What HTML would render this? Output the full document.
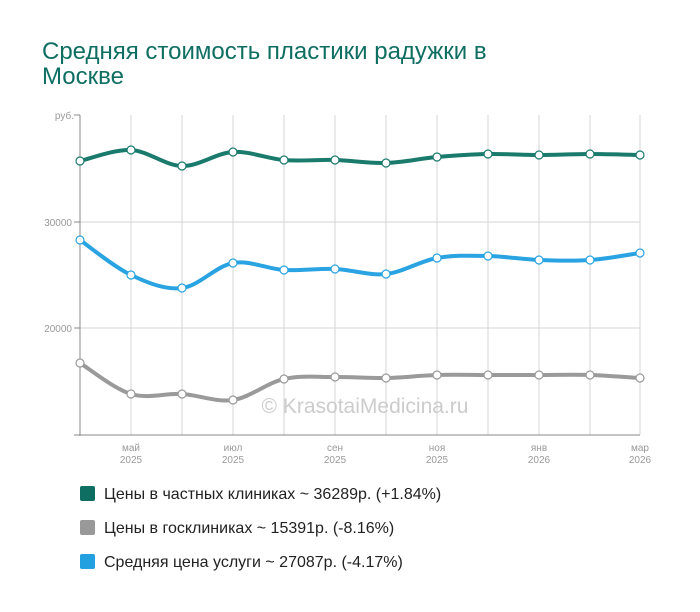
<!DOCTYPE html>
<html><head><meta charset="utf-8"><style>
body{margin:0;background:#fff;width:700px;height:612px;overflow:hidden;font-family:"Liberation Sans",sans-serif}
h1{position:absolute;left:42px;top:39px;margin:0;font-weight:normal;font-size:24px;line-height:25px;color:#0f6e62}
.lg{position:absolute;left:80px;font-size:16px;color:#222}
.lg span{display:inline-block;width:15px;height:15px;border-radius:2px;vertical-align:-2px;margin-right:9px}
</style></head><body>
<h1>Средняя стоимость пластики радужки в<br>Москве</h1>
<svg id="s" width="700" height="612" style="position:absolute;left:0;top:0" font-family="Liberation Sans, sans-serif">
<g stroke="#d6d6d6" stroke-width="1">
<line x1="131" y1="115" x2="131" y2="435"/><line x1="182" y1="115" x2="182" y2="435"/><line x1="233" y1="115" x2="233" y2="435"/><line x1="284" y1="115" x2="284" y2="435"/><line x1="335" y1="115" x2="335" y2="435"/><line x1="386" y1="115" x2="386" y2="435"/><line x1="437" y1="115" x2="437" y2="435"/><line x1="488" y1="115" x2="488" y2="435"/><line x1="539" y1="115" x2="539" y2="435"/><line x1="590" y1="115" x2="590" y2="435"/><line x1="640" y1="115" x2="640" y2="435"/>
<line x1="76" y1="222" x2="640" y2="222"/><line x1="76" y1="328" x2="640" y2="328"/>
</g>
<g stroke="#888" stroke-width="1"><line x1="80" y1="115" x2="80" y2="436"/><line x1="74" y1="435" x2="640" y2="435"/><line x1="74" y1="115" x2="80" y2="115"/><line x1="74" y1="222" x2="80" y2="222"/><line x1="74" y1="328" x2="80" y2="328"/></g>
<g fill="#999" font-size="10" text-anchor="end"><text x="74" y="119">руб.</text><text x="72" y="226">30000</text><text x="72" y="332">20000</text></g>
<g fill="#999" font-size="10" text-anchor="middle">
<text x="131" y="451">май</text><text x="131" y="463">2025</text>
<text x="233" y="451">июл</text><text x="233" y="463">2025</text>
<text x="335" y="451">сен</text><text x="335" y="463">2025</text>
<text x="437" y="451">ноя</text><text x="437" y="463">2025</text>
<text x="539" y="451">янв</text><text x="539" y="463">2026</text>
<text x="640" y="451">мар</text><text x="640" y="463">2026</text></g>
<text x="365" y="413" text-anchor="middle" font-size="21" fill="#ccc">© KrasotaiMedicina.ru</text>
<g id="lines"></g>
</svg>
<div class="lg" style="top:486px"><span style="background:#0f6e62"></span>Цены в частных клиниках ~ 36289р. (+1.84%)</div>
<div class="lg" style="top:520px"><span style="background:#999"></span>Цены в госклиниках ~ 15391р. (-8.16%)</div>
<div class="lg" style="top:554px"><span style="background:#22a0e0"></span>Средняя цена услуги ~ 27087р. (-4.17%)</div>
<script>
var xs=[80,131,182,233,284,335,386,437,488,539,590,640];
var S=[["#1a7a6c",[161,150,166,152,160,160,163,157,154,155,154,155]],
["#2aa3e2",[240,275,288,263,270,269,274,258,256,260,260,253]],
["#9a9a9a",[363,394,394,400,379,377,378,375,375,375,375,378]]];
var g=document.getElementById("lines"),h="";
S.forEach(function(s){var y=s[1],d="M"+xs[0]+","+y[0];
for(var i=0;i<11;i++){var p0=i?i-1:i,p3=i<10?i+2:i+1;
var c1x=xs[i]+(xs[i+1]-xs[p0])/6,c1y=y[i]+(y[i+1]-y[p0])/6,c2x=xs[i+1]-(xs[p3]-xs[i])/6,c2y=y[i+1]-(y[p3]-y[i])/6;
d+=" C"+c1x+","+c1y+" "+c2x+","+c2y+" "+xs[i+1]+","+y[i+1];}
h+='<path d="'+d+'" fill="none" stroke="'+s[0]+'" stroke-width="4"/>';
xs.forEach(function(x,i){h+='<circle cx="'+x+'" cy="'+y[i]+'" r="4" fill="#fff" stroke="'+s[0]+'" stroke-width="1.2"/>';});});
g.innerHTML=h;
</script>
</body></html>
